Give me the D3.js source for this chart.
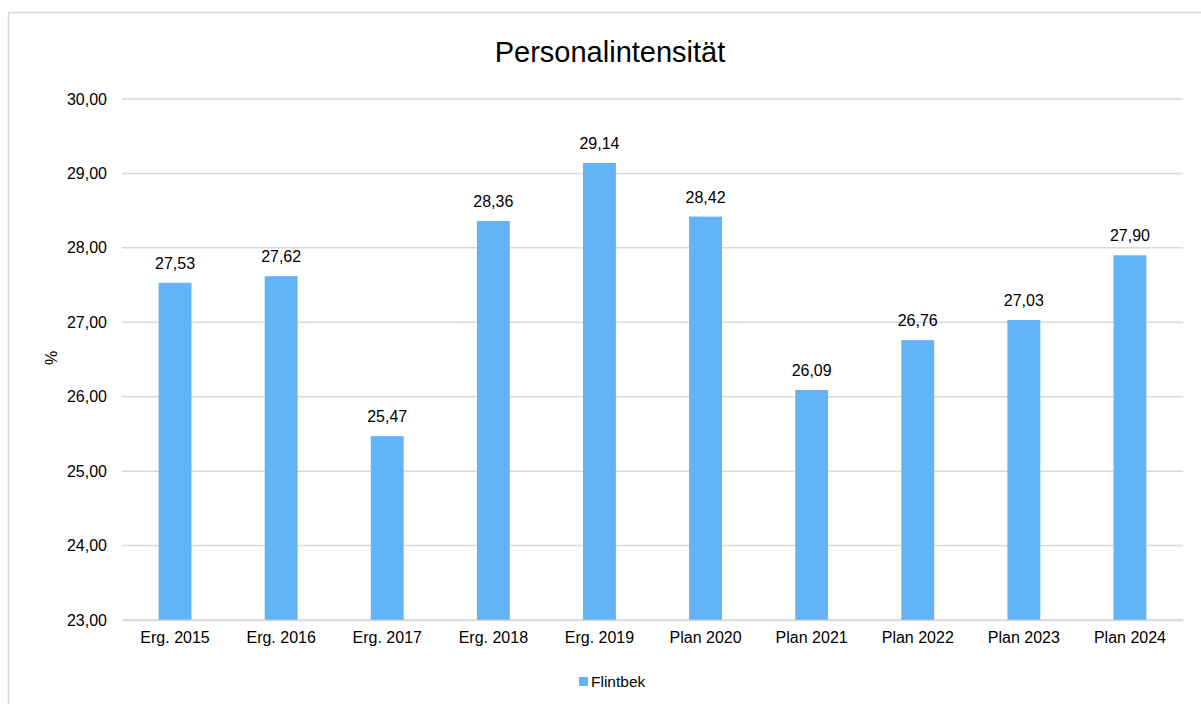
<!DOCTYPE html>
<html><head><meta charset="utf-8">
<script src="https://cdn.jsdelivr.net/npm/d3@7"></script>
<style>body{margin:0;background:#fff;} text{font-family:"Liberation Sans",Arial,sans-serif;fill:#000;}</style>
</head><body>
<svg id="c" width="1201" height="704"></svg>
<script>
const categories = ["Erg. 2015","Erg. 2016","Erg. 2017","Erg. 2018","Erg. 2019","Plan 2020","Plan 2021","Plan 2022","Plan 2023","Plan 2024"];
const values = [27.53,27.62,25.47,28.36,29.14,28.42,26.09,26.76,27.03,27.90];
const yTicks = [23,24,25,26,27,28,29,30];
const seriesName = "Flintbek";
const title = "Personalintensität";
const yLabel = "%";

const svg = d3.select("#c");
const fmt = v => d3.format(".2f")(v).replace(".", ",");
svg.append("rect").attr("x",8.5).attr("y",12.5).attr("width",1250).attr("height",760)
  .attr("fill","#fff").attr("stroke","#d9d9d9").attr("stroke-width",1.5);

const x = d3.scaleBand().domain(categories).range([122,1183]).paddingInner(0.69).paddingOuter(0.345);
const y = d3.scaleLinear().domain([23,30]).range([620,99]);

const grid = svg.append("g");
grid.selectAll("line").data(yTicks).join("line")
  .attr("x1",122).attr("x2",1183).attr("y1",d=>y(d)).attr("y2",d=>y(d))
  .attr("stroke","#d9d9d9").attr("stroke-width",1.5);

const yAxis = svg.append("g").attr("transform","translate(122,0)")
  .call(d3.axisLeft(y).tickValues(yTicks).tickFormat(fmt).tickSize(0).tickPadding(15));
yAxis.select(".domain").remove();
yAxis.selectAll("text").attr("font-size",16).style("font-family","Liberation Sans, Arial, sans-serif");

svg.selectAll("rect.bar").data(values).join("rect").attr("class","bar")
  .attr("x",(d,i)=>x(categories[i])).attr("width",x.bandwidth())
  .attr("y",d=>y(d)).attr("height",d=>y(23)-y(d)).attr("fill","#63b4f6");

svg.selectAll("text.lbl").data(values).join("text").attr("class","lbl")
  .attr("x",(d,i)=>x(categories[i])+x.bandwidth()/2).attr("y",d=>y(d)-14)
  .attr("text-anchor","middle").attr("font-size",16).text(fmt);

const xAxis = svg.append("g").attr("transform","translate(0,620)")
  .call(d3.axisBottom(x).tickSize(0).tickPadding(12));
xAxis.select(".domain").attr("stroke","#d9d9d9").attr("stroke-width",1.5);
xAxis.selectAll("text").attr("font-size",16).style("font-family","Liberation Sans, Arial, sans-serif");

svg.append("text").attr("x",610).attr("y",62).attr("text-anchor","middle").attr("font-size",29).text(title);
svg.append("text").attr("transform","translate(57,358) rotate(-90)").attr("text-anchor","middle").attr("font-size",16).text(yLabel);

svg.append("rect").attr("x",579).attr("y",677).attr("width",9).attr("height",9).attr("fill","#63b4f6");
svg.append("text").attr("x",591).attr("y",687).attr("font-size",15.5).text(seriesName);
</script>
</body></html>
